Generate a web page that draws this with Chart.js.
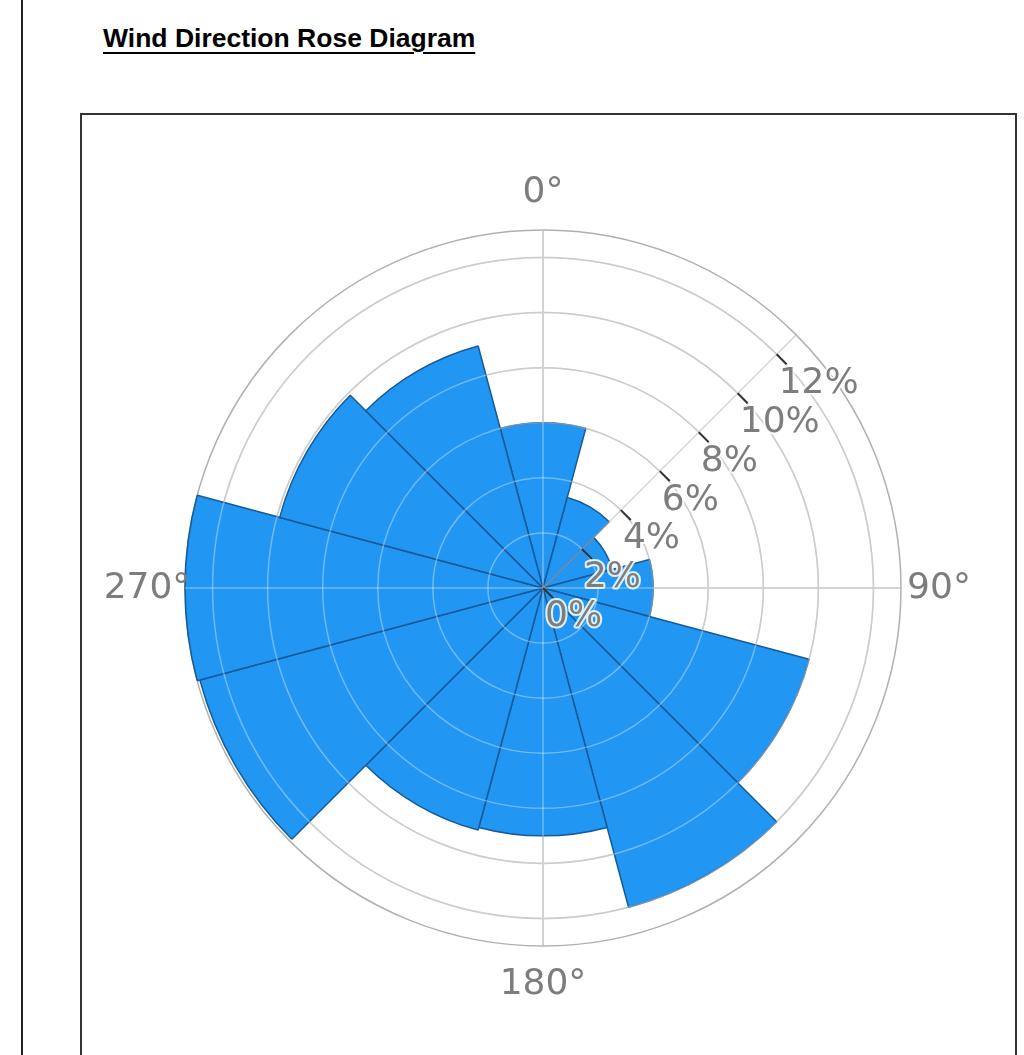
<!DOCTYPE html>
<html>
<head>
<meta charset="utf-8">
<title>Wind Direction Rose Diagram</title>
<script src="https://cdn.jsdelivr.net/npm/chart.js@4.4.1/dist/chart.umd.min.js"></script>
<style>
  html, body { margin: 0; padding: 0; background: #fff; }
  body { width: 1024px; height: 1055px; position: relative; overflow: hidden; }
  .page-line { position: absolute; left: 21px; top: 0; width: 2px; height: 1055px; background: #222; }
  .title {
    position: absolute; left: 103px; top: 25px; margin: 0;
    font: bold 26.5px/26px "Liberation Sans", Arial, sans-serif; color: #000;
    text-decoration: underline; text-decoration-thickness: 2px; text-underline-offset: 5px;
  }
  .frame { position: absolute; left: 80px; top: 113px; width: 933px; height: 1000px; border: 2px solid #333; }
  .chart-wrap { position: absolute; left: 0; top: 0; width: 1024px; height: 1055px; }
</style>
</head>
<body>
<div class="page-line"></div>
<h1 class="title">Wind Direction Rose Diagram</h1>
<div class="frame"></div>
<div class="chart-wrap"><canvas id="rose"></canvas></div>
<script>
// wind direction (deg, sector centre) and share of time (%)
const directions = [0, 30, 60, 90, 120, 150, 180, 210, 240, 270, 300, 330];
const frequency = [6.0, 3.4, 2.6, 4.0, 10.0, 12.0, 9.0, 9.1, 12.9, 13.0, 9.9, 9.1];

const radialTicks = [0, 2, 4, 6, 8, 10, 12];
const radialMax = 13;
const compassAngles = [0, 90, 180, 270];
const tickAxisAngle = 45;

const labelFont = '36px "DejaVu Sans", sans-serif';
const labelColor = '#7d7d7d';
const gridColor = 'rgba(150,150,150,0.75)';

function polarPoint(scale, deg, dist) {
  const rad = deg * Math.PI / 180;
  return { x: scale.xCenter + dist * Math.sin(rad), y: scale.yCenter - dist * Math.cos(rad) };
}

function spoke(ctx, scale, deg) {
  const p = polarPoint(scale, deg, scale.getDistanceFromCenterForValue(radialMax));
  ctx.beginPath();
  ctx.moveTo(scale.xCenter, scale.yCenter);
  ctx.lineTo(p.x, p.y);
  ctx.stroke();
}

// compass spokes, radial axis with ticks, and axis labels like the original rose
const roseAxes = {
  id: 'roseAxes',
  beforeDatasetsDraw(chart) {
    const r = chart.scales.r;
    const ctx = chart.ctx;
    ctx.save();
    ctx.strokeStyle = gridColor;
    ctx.lineWidth = 1.5;
    compassAngles.forEach(deg => spoke(ctx, r, deg));
    ctx.restore();
  },
  afterDatasetsDraw(chart) {
    const r = chart.scales.r;
    const ctx = chart.ctx;
    ctx.save();

    // grid shows through the bars as lighter lines
    ctx.strokeStyle = 'rgba(255,255,255,0.35)';
    ctx.lineWidth = 1.5;
    radialTicks.forEach(v => {
      if (v === 0) return;
      ctx.beginPath();
      ctx.arc(r.xCenter, r.yCenter, r.getDistanceFromCenterForValue(v), 0, Math.PI * 2);
      ctx.stroke();
    });
    compassAngles.forEach(deg => spoke(ctx, r, deg));

    // radial axis line
    ctx.strokeStyle = 'rgba(190,190,190,0.6)';
    ctx.lineWidth = 1.5;
    spoke(ctx, r, tickAxisAngle);

    // tick marks and tick labels
    const nx = Math.cos(tickAxisAngle * Math.PI / 180);
    const ny = Math.sin(tickAxisAngle * Math.PI / 180);
    ctx.font = labelFont;
    ctx.textAlign = 'left';
    ctx.textBaseline = 'middle';
    radialTicks.forEach(v => {
      const p = polarPoint(r, tickAxisAngle, r.getDistanceFromCenterForValue(v));
      ctx.strokeStyle = '#333';
      ctx.lineWidth = 2;
      ctx.beginPath();
      ctx.moveTo(p.x, p.y);
      ctx.lineTo(p.x + 14 * nx, p.y + 14 * ny);
      ctx.stroke();
      const txt = v + '%';
      ctx.strokeStyle = 'rgba(255,255,255,0.85)';
      ctx.lineWidth = 4;
      ctx.lineJoin = 'round';
      ctx.strokeText(txt, p.x + 2, p.y + 29);
      ctx.fillStyle = labelColor;
      ctx.fillText(txt, p.x + 2, p.y + 29);
    });

    // compass labels
    ctx.textAlign = 'center';
    ctx.fillStyle = labelColor;
    compassAngles.forEach(deg => {
      const p = polarPoint(r, deg, r.drawingArea + 38);
      ctx.fillText(deg + '°', p.x, p.y + 1);
    });
    ctx.restore();
  }
};

const sectorWidth = 360 / directions.length;

new Chart(document.getElementById('rose'), {
  type: 'polarArea',
  data: {
    labels: directions.map(d => d + '°'),
    datasets: [{
      label: 'Frequency (%)',
      data: frequency,
      backgroundColor: '#2196F3',
      borderColor: '#175a98',
      borderWidth: 1.5
    }]
  },
  options: {
    responsive: true,
    maintainAspectRatio: false,
    animation: false,
    layout: { padding: { left: 185, top: 230, right: 123, bottom: 109 } },
    scales: {
      r: {
        min: 0,
        max: radialMax,
        startAngle: -sectorWidth / 2,
        afterBuildTicks: scale => {
          scale.ticks = radialTicks.concat([radialMax]).map(v => ({ value: v }));
        },
        ticks: { display: false },
        grid: { color: gridColor, lineWidth: 1.5 },
        angleLines: { display: false },
        pointLabels: { display: false }
      }
    },
    plugins: {
      legend: { display: false },
      tooltip: { enabled: false }
    }
  },
  plugins: [roseAxes]
});
</script>
</body>
</html>
